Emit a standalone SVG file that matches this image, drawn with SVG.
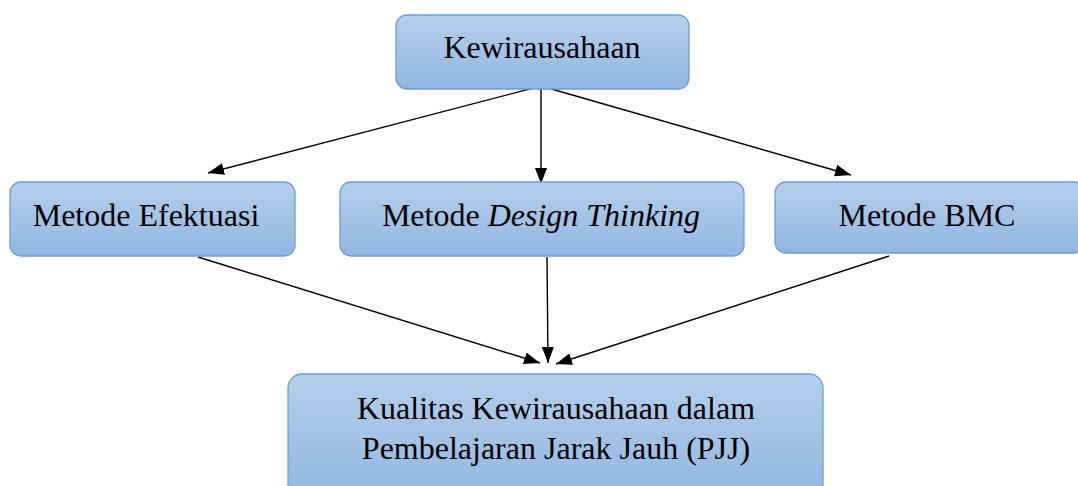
<svg xmlns="http://www.w3.org/2000/svg" width="1078" height="486" viewBox="0 0 1078 486">
<defs>
<linearGradient id="g" x1="0" y1="0" x2="0" y2="1">
<stop offset="0" stop-color="#b5cfeb"/>
<stop offset="1" stop-color="#92b6e1"/>
</linearGradient>
<marker id="ah" viewBox="0 0 16 12" refX="16" refY="6" markerWidth="16" markerHeight="12" markerUnits="userSpaceOnUse" orient="auto">
<path d="M0,0 L16,6 L0,12 Z" fill="#000"/>
</marker>
<style>
.box{fill:url(#g);stroke:#6b9fd6;stroke-width:1.3}
.t{font-family:"Liberation Serif","Times New Roman",serif;font-size:32px;fill:#000;text-anchor:middle}
.c{stroke:#000;stroke-width:1.4;fill:none;marker-end:url(#ah)}
</style>
</defs>
<rect width="1078" height="486" fill="#fff"/>
<g id="connectors">
<line class="c" x1="541" y1="86" x2="208" y2="173"/>
<line class="c" x1="541" y1="86" x2="541" y2="184"/>
<line class="c" x1="541" y1="86" x2="851" y2="175"/>
<line class="c" x1="198" y1="257" x2="540" y2="363"/>
<line class="c" x1="547" y1="257" x2="548" y2="363"/>
<line class="c" x1="889" y1="256" x2="556" y2="364"/>
</g>
<g id="kewirausahaan">
<rect class="box" x="396" y="15" width="293" height="74" rx="11"/>
<text class="t" x="542" y="58">Kewirausahaan</text>
</g>
<g id="efektuasi">
<rect class="box" x="10" y="182" width="285" height="74" rx="11"/>
<text class="t" x="146" y="226">Metode Efektuasi</text>
</g>
<g id="design-thinking">
<rect class="box" x="340" y="182" width="404" height="74" rx="11"/>
<text class="t" x="541" y="226">Metode <tspan font-style="italic">Design Thinking</tspan></text>
</g>
<g id="bmc">
<rect class="box" x="775" y="182" width="310" height="71" rx="11"/>
<text class="t" x="927" y="226">Metode BMC</text>
</g>
<g id="kualitas">
<rect class="box" x="288" y="374" width="535" height="125" rx="14"/>
<text class="t" x="556" y="419">Kualitas Kewirausahaan dalam</text>
<text class="t" x="556" y="459">Pembelajaran Jarak Jauh (PJJ)</text>
</g>
</svg>
